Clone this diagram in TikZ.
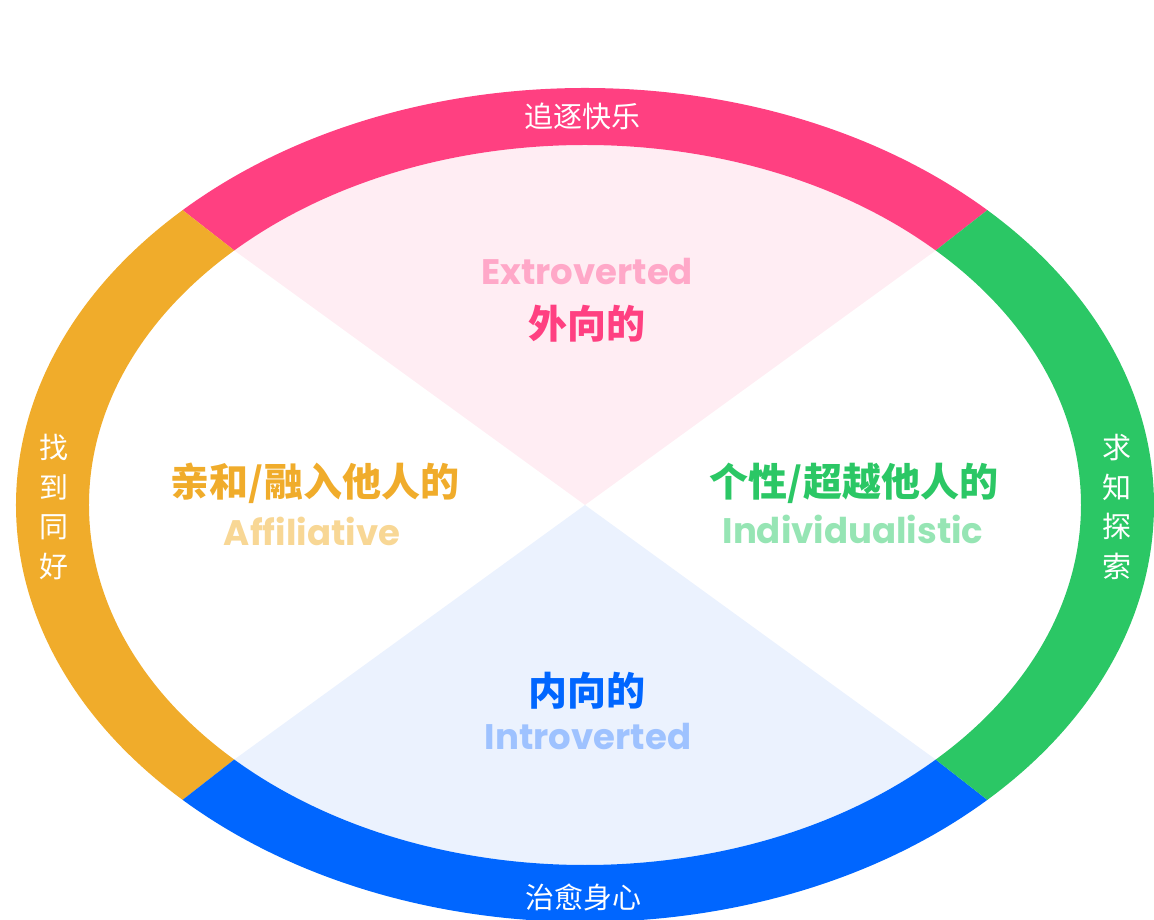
\documentclass[tikz,border=0pt]{standalone}
\usepackage{fontspec}
\usepackage{xcolor}
\usetikzlibrary{positioning}
\newfontfamily\cjk{Noto Sans CJK SC}
\newfontfamily\poppins{Poppins}

\definecolor{ringpink}{HTML}{FF4081}
\definecolor{ringgreen}{HTML}{2BC765}
\definecolor{ringblue}{HTML}{0066FF}
\definecolor{ringorange}{HTML}{F0AC2B}
\definecolor{bgpink}{HTML}{FFEDF3}
\definecolor{bgblue}{HTML}{EBF2FE}
\definecolor{lightpink}{HTML}{FFA8C8}
\definecolor{lightorange}{HTML}{F8D795}
\definecolor{lightgreen}{HTML}{96E5B4}
\definecolor{lightblue}{HTML}{9EC2FF}

\begin{document}
\begin{tikzpicture}[
    x=1pt, y=1pt,
    ringlabel/.style={text=white, font=\cjk\fontsize{29}{39.7}\selectfont, align=center, inner sep=0pt},
    titlecn/.style={font=\cjk\bfseries\fontsize{39}{44}\selectfont, inner sep=0pt},
    titleen/.style={font=\poppins\bfseries\fontsize{35.5}{40}\selectfont, inner sep=0pt}
]
\useasboundingbox (-585,-415) rectangle (569,505);

% Corner points of the ring
\coordinate (o) at (0,0);
\coordinate (oNE) at (45:569pt and 417pt);
\coordinate (oNW) at (135:569pt and 417pt);
\coordinate (oSW) at (225:569pt and 417pt);
\coordinate (oSE) at (315:569pt and 417pt);
\coordinate (iNE) at (45:496pt and 360pt);
\coordinate (iNW) at (135:496pt and 360pt);
\coordinate (iSW) at (225:496pt and 360pt);
\coordinate (iSE) at (315:496pt and 360pt);

% Inner sectors
\fill[bgpink] (o) -- (iNE) arc[start angle=45, end angle=135, x radius=496pt, y radius=360pt] -- cycle;
\fill[bgblue] (o) -- (iSW) arc[start angle=225, end angle=315, x radius=496pt, y radius=360pt] -- cycle;

% Ring segments
\fill[ringpink] (oNE) arc[start angle=45, end angle=135, x radius=569pt, y radius=417pt] -- (iNW) arc[start angle=135, end angle=45, x radius=496pt, y radius=360pt] -- cycle;
\fill[ringorange] (oNW) arc[start angle=135, end angle=225, x radius=569pt, y radius=417pt] -- (iSW) arc[start angle=225, end angle=135, x radius=496pt, y radius=360pt] -- cycle;
\fill[ringblue] (oSW) arc[start angle=225, end angle=315, x radius=569pt, y radius=417pt] -- (iSE) arc[start angle=315, end angle=225, x radius=496pt, y radius=360pt] -- cycle;
\fill[ringgreen] (oSE) arc[start angle=-45, end angle=45, x radius=569pt, y radius=417pt] -- (iNE) arc[start angle=45, end angle=-45, x radius=496pt, y radius=360pt] -- cycle;

% Ring labels
\node[ringlabel] (kuaile) at (-2,389) {追逐快乐};
\node[ringlabel] (shenxin) at (-1,-392) {治愈身心};
\node[ringlabel] (haoyou) at (-531,-2) {找\\到\\同\\好};
\node[ringlabel] (tansuo) at (532,-2) {求\\知\\探\\索};

% Quadrant titles
\node[titleen, text=lightpink] (extro) at (2,233) {Extroverted};
\node[titlecn, text=ringpink] (waixiang) at (2,181) {外向的};
\node[titlecn, text=ringorange] (qinhe) at (-270,22) {亲和/融入他人的};
\node[titleen, text=lightorange] (affil) at (-273,-26) {Affiliative};
\node[titlecn, text=ringgreen] (gexing) at (269,22) {个性/超越他人的};
\node[titleen, text=lightgreen] (indiv) at (268,-24) {Individualistic};
\node[titlecn, text=ringblue] (neixiang) at (2,-186) {内向的};
\node[titleen, text=lightblue] (intro) at (3,-232) {Introverted};

\end{tikzpicture}
\end{document}
